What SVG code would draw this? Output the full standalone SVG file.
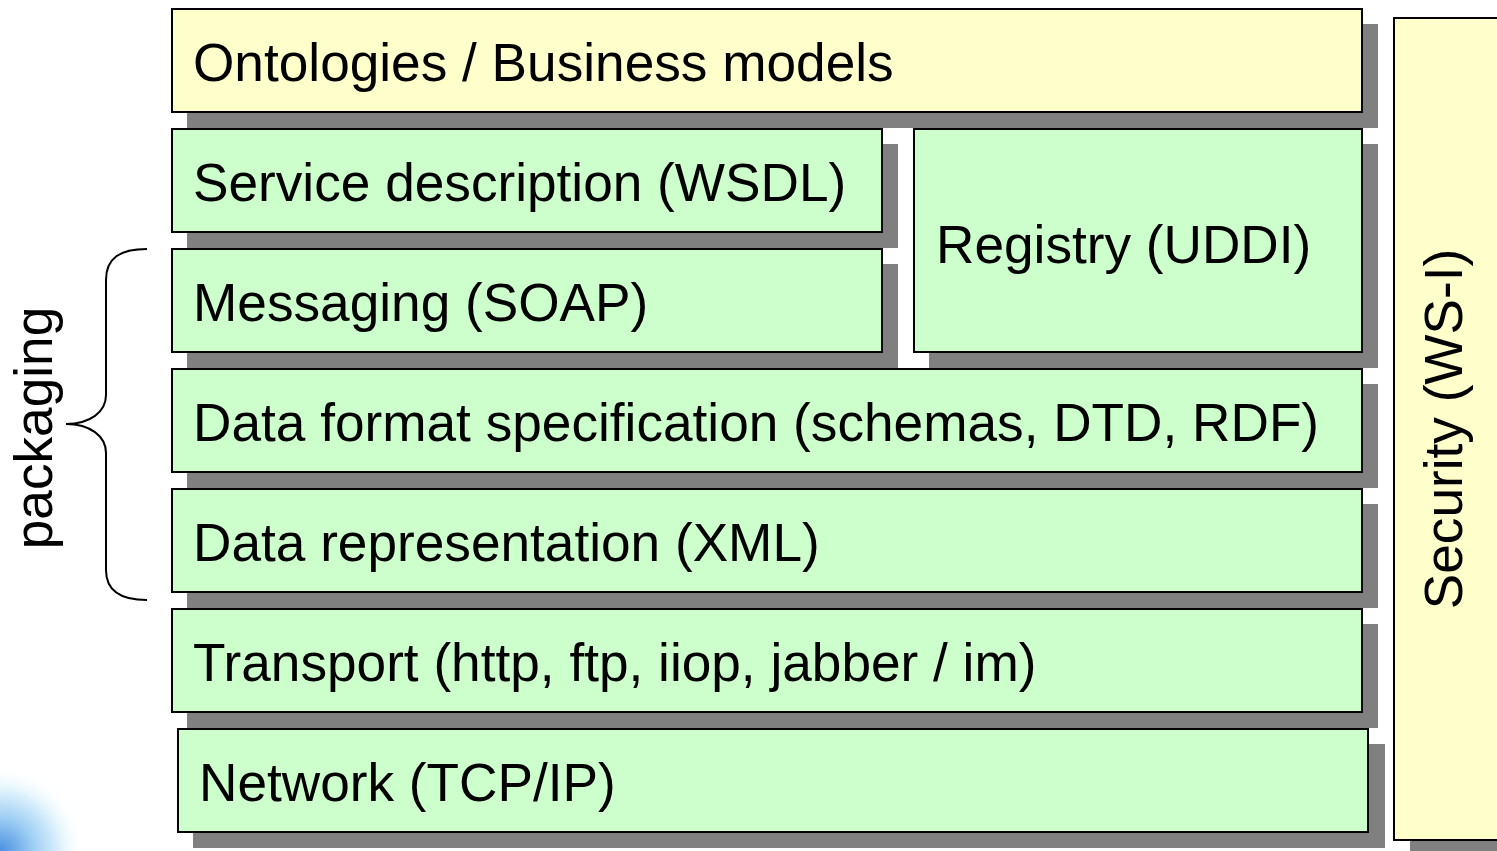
<svg xmlns="http://www.w3.org/2000/svg" width="1497" height="851" viewBox="0 0 1497 851">
  <style>
    .shadow { fill: #808080; }
    .box { stroke: #000; stroke-width: 2; }
    .green { fill: #CCFFCC; }
    .yellow { fill: #FFFFCC; }
    .lbl { font-family: "Liberation Sans", Arial, sans-serif; font-size: 53.2px; fill: #000; }
    .brace { fill: none; stroke: #000; stroke-width: 2; }
  </style>
  <defs>
    <radialGradient id="corner" cx="0" cy="851" r="85" gradientUnits="userSpaceOnUse">
      <stop offset="0" stop-color="#4a8fe0"/>
      <stop offset="0.4" stop-color="#9fcff4"/>
      <stop offset="0.75" stop-color="#e6f6fd"/>
      <stop offset="1" stop-color="#ffffff" stop-opacity="0"/>
    </radialGradient>
  </defs>
  <rect width="1497" height="851" fill="#fff"/>
  <circle cx="0" cy="851" r="85" fill="url(#corner)"/>

  <g id="ontologies">
    <rect class="shadow" x="187" y="24" width="1191" height="104"/>
    <rect class="box yellow" x="172" y="9" width="1190" height="103"/>
    <text class="lbl" x="193" y="81">Ontologies / Business models</text>
  </g>
  <g id="service-description">
    <rect class="shadow" x="187" y="144" width="711" height="104"/>
    <rect class="box green" x="172" y="129" width="710" height="103"/>
    <text class="lbl" x="193" y="201">Service description (WSDL)</text>
  </g>
  <g id="registry">
    <rect class="shadow" x="929" y="144" width="449" height="224"/>
    <rect class="box green" x="914" y="129" width="448" height="223"/>
    <text class="lbl" x="936" y="263">Registry (UDDI)</text>
  </g>
  <g id="messaging">
    <rect class="shadow" x="187" y="264" width="711" height="104"/>
    <rect class="box green" x="172" y="249" width="710" height="103"/>
    <text class="lbl" x="193" y="321">Messaging (SOAP)</text>
  </g>
  <g id="data-format">
    <rect class="shadow" x="187" y="384" width="1191" height="104"/>
    <rect class="box green" x="172" y="369" width="1190" height="103"/>
    <text class="lbl" x="193" y="441">Data format specification (schemas, DTD, RDF)</text>
  </g>
  <g id="data-representation">
    <rect class="shadow" x="187" y="504" width="1191" height="104"/>
    <rect class="box green" x="172" y="489" width="1190" height="103"/>
    <text class="lbl" x="193" y="561">Data representation (XML)</text>
  </g>
  <g id="transport">
    <rect class="shadow" x="187" y="624" width="1191" height="104"/>
    <rect class="box green" x="172" y="609" width="1190" height="103"/>
    <text class="lbl" x="193" y="681">Transport (http, ftp, iiop, jabber / im)</text>
  </g>
  <g id="network">
    <rect class="shadow" x="193" y="744" width="1192" height="104"/>
    <rect class="box green" x="178" y="729" width="1190" height="103"/>
    <text class="lbl" x="199" y="801">Network (TCP/IP)</text>
  </g>
  <g id="security">
    <rect class="shadow" x="1410" y="34" width="100" height="822"/>
    <rect class="box yellow" x="1394" y="18" width="120" height="822"/>
    <text class="lbl" transform="translate(1462,429) rotate(-90)" text-anchor="middle">Security (WS-I)</text>
  </g>
  <g id="packaging">
    <path class="brace" d="M147,249 C120,249 106,258 106,280 L106,395 C106,412 90,424 66,424 C90,424 106,436 106,453 L106,570 C106,590 120,600 147,600"/>
    <text class="lbl" transform="translate(52,428) rotate(-90)" text-anchor="middle">packaging</text>
  </g>
  <g id="connectors"></g>
</svg>
